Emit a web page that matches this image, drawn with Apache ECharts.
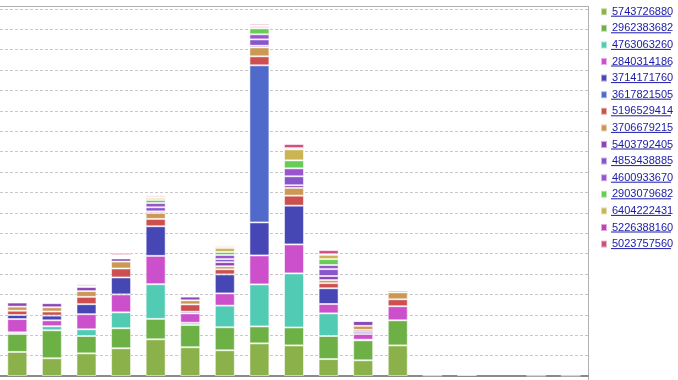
<!DOCTYPE html>
<html><head><meta charset="utf-8">
<script src="https://cdn.jsdelivr.net/npm/echarts@6/dist/echarts.min.js"></script>
<style>html,body{margin:0;padding:0;background:#fff}#c{width:678px;height:380px}</style>
</head><body><div id="c"></div>
<script>
const categories = ['1','2','3','4','5','6','7','8','9','10','11','12','13','14','15','16','17'];
const seriesNames = ['5743726880','2962383682','4763063260','2840314186','3714171760','3617821505','5196529414','3706679215','5403792405','4853438885','4600933670','2903079682','6404222431','5226388160','5023757560'];
const colors = ['#8bb24a','#6db045','#52cbb4','#cc50cc','#4646b4','#506acc','#cc5050','#cc9955','#8b45b5','#8855cc','#9b55cc','#66cc55','#ccb455','#bb44bb','#cc5080'];
const s1  = [1.18,0.87,1.11,1.36,1.80,1.41,1.26,1.60,1.50,0.83,0.77,1.50,null,null,null,null,null];
const s2  = [0.88,1.37,0.85,0.98,1.00,1.09,1.13,0.83,0.88,1.13,0.98,1.23,null,null,null,null,null];
const s3  = [0.08,0.20,0.33,0.78,1.70,0.11,1.06,2.06,2.65,1.11,0.03,null,null,null,null,null,null];
const s4  = [0.65,0.29,0.74,0.88,1.39,0.46,0.60,1.42,1.42,0.46,0.28,0.69,null,null,null,null,null];
const s5  = [0.20,0.23,0.49,0.83,1.45,0.08,0.93,1.62,1.90,0.77,0.10,null,null,null,null,null,null];
const s6  = [null,null,null,null,null,null,null,7.70,null,null,null,null,null,null,null,null,null];
const s7  = [0.21,0.20,0.36,0.44,0.36,0.36,0.25,0.44,0.49,0.25,0.10,0.34,null,null,null,null,null];
const s8  = [0.20,0.21,0.28,0.34,0.29,0.20,0.15,0.44,0.38,0.15,0.20,0.34,null,null,null,null,null];
const s9  = [0.20,0.20,0.20,0.15,0.08,0.18,0.20,0.08,0.13,0.20,0.23,0.08,null,null,null,null,null];
const s10 = [null,null,null,0.05,0.20,null,0.15,0.31,0.44,0.34,null,null,null,null,null,null,null];
const s11 = [null,null,null,null,0.21,null,0.20,0.25,0.39,0.20,null,null,null,null,null,null,null];
const s12 = [null,null,null,0.04,0.15,null,0.15,0.29,0.39,0.29,null,null,null,null,null,null,null];
const s13 = [null,null,null,0.03,0.10,null,0.20,0.08,0.54,0.21,0.03,null,null,null,null,null,null];
const s14 = [0.03,0.05,0.05,0.05,0.05,null,0.06,0.06,0.06,0.03,0.02,null,null,0.05,null,null,null];
const s15 = [0.04,0.05,0.08,0.10,0.07,0.02,0.06,0.08,0.20,0.20,0.02,0.02,0.03,null,null,0.02,0.02];
const values = [s1,s2,s3,s4,s5,s6,s7,s8,s9,s10,s11,s12,s13,s14,s15];

const legendTop = 4.7, legendStep = 16.6, legendLeft = 600;
const chart = echarts.init(document.getElementById('c'));
const underlines = seriesNames.map((n,i)=>({
  type:'line', silent:true,
  shape:{x1:611, y1:legendTop+7+4.5+i*legendStep, x2:671, y2:legendTop+7+4.5+i*legendStep},
  style:{stroke:'#1a1aa8', lineWidth:1}
}));
chart.setOption({
  animation:false,
  color: colors,
  grid:{left:0, right:90, top:8.8, bottom:4, containLabel:false},
  xAxis:{type:'category', data:categories, axisLine:{lineStyle:{color:'#8a8a8a', width:2}}, axisTick:{show:false}, axisLabel:{show:false}},
  yAxis:{type:'value', min:0, max:18, interval:1, axisLabel:{show:false}, axisLine:{show:false}, axisTick:{show:false},
    splitLine:{lineStyle:{color:'#c8c8c8', type:[3,2], width:1}}},
  legend:{orient:'vertical', left:legendLeft, top:legendTop, padding:0, itemWidth:6, itemHeight:7, itemGap:2.6, icon:'rect',
    textStyle:{fontFamily:'Liberation Sans, Arial', fontSize:11, color:'#1a1aa8', lineHeight:14},
    data: seriesNames, selectedMode:false},
  graphic: [
    {type:'line', silent:true, shape:{x1:0,y1:6.5,x2:588.5,y2:6.5}, style:{stroke:'#b0b0b0', lineWidth:1}},
    {type:'line', silent:true, shape:{x1:588.5,y1:6,x2:588.5,y2:380}, style:{stroke:'#b0b0b0', lineWidth:1}}
  ].concat(underlines),
  series: seriesNames.map((n,i)=>({
    name:n, type:'bar', stack:'t', barWidth:20, data: values[i],
    itemStyle:{color:colors[i], borderColor:'rgba(255,255,255,0.55)', borderWidth:1}
  }))
});
</script></body></html>
